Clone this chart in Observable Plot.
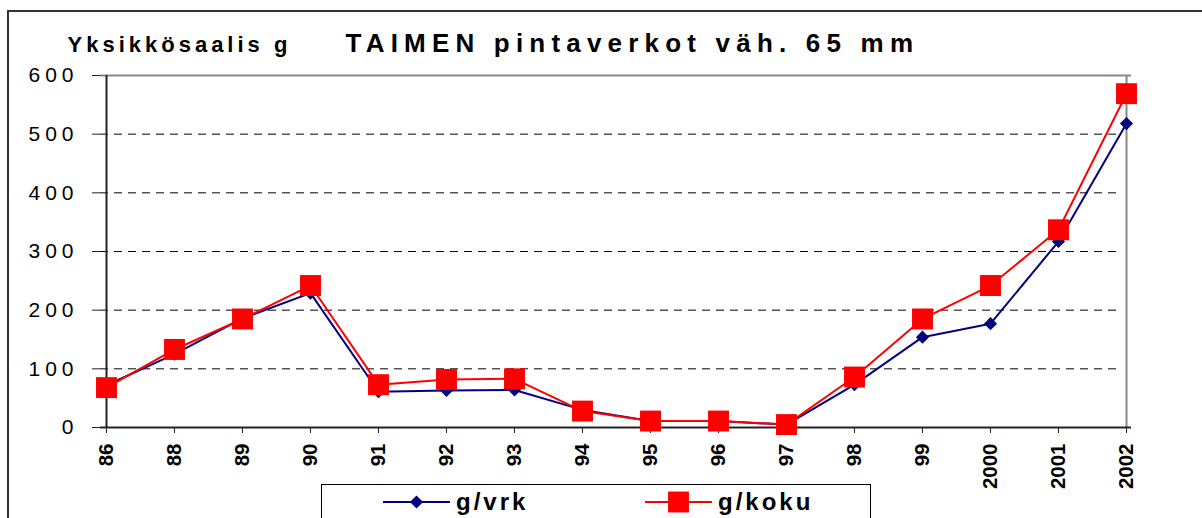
<!DOCTYPE html>
<html>
<head>
<meta charset="utf-8">
<script src="https://cdn.jsdelivr.net/npm/d3@7"></script>
<script src="https://cdn.jsdelivr.net/npm/@observablehq/plot@0.6"></script>
<style>
  html, body { margin: 0; padding: 0; background: #fff; }
  #wrap { position: relative; width: 1202px; height: 518px; overflow: hidden; background: #fff;
          font-family: "Liberation Sans", Arial, sans-serif; }
  #outer { position: absolute; left: 7px; top: 10px; width: 1400px; height: 700px; border: 2px solid #333; box-sizing: border-box; }
  #chart { position: absolute; left: 0; top: 0; }
  #legend { position: absolute; left: 321px; top: 484px; width: 550px; height: 80px;
            border: 1.5px solid #000; box-sizing: border-box; background: #fff; }
  #legend .item { position: absolute; top: 0; height: 34px; display: flex; align-items: center; }
  #legend .lab { font-weight: bold; font-size: 24px; letter-spacing: 3px; color: #000; margin-left: 6px; }
</style>
</head>
<body>
<div id="wrap">
  <div id="outer"></div>
  <div id="chart"></div>
  <div id="legend"></div>
</div>
<script>
const categories = ["86","88","89","90","91","92","93","94","95","96","97","98","99","2000","2001","2002"];
const gVrk  = [72, 125, 186, 229, 61, 63, 64, 30, 11, 11, 5, 73, 154, 177, 317, 518];
const gKoku = [68, 133, 185, 242, 73, 82, 83, 28, 11, 11, 5, 86, 185, 242, 337, 569];
const yTicks = [0, 100, 200, 300, 400, 500, 600];
const gridTicks = [100, 200, 300, 400, 500];
const seriesNames = ["g/vrk", "g/koku"];
const seriesColors = ["#000080", "#ff0000"];
const titleText = "TAIMEN pintaverkot väh. 65 mm";
const yLabelText = "Yksikkösaalis g";

const rowsVrk = categories.map((c, i) => ({year: c, value: gVrk[i]}));
const rowsKoku = categories.map((c, i) => ({year: c, value: gKoku[i]}));

const chart = Plot.plot({
  width: 1202,
  height: 518,
  marginLeft: 100,
  marginRight: 71,
  marginTop: 75,
  marginBottom: 91,
  style: {fontFamily: "'Liberation Sans', Arial, sans-serif", background: "transparent", color: "#000", overflow: "visible"},
  x: {type: "point", domain: categories, padding: 0, label: null},
  y: {domain: [0, 600], label: null},
  marks: [
    Plot.gridY(gridTicks, {stroke: "#000", strokeOpacity: 1, strokeWidth: 1, strokeDasharray: "8,6", insetRight: 9}),
    Plot.ruleY([600], {stroke: "#888", strokeWidth: 2}),
    Plot.ruleX([categories[categories.length - 1]], {stroke: "#888", strokeWidth: 2}),
    Plot.axisY(yTicks, {tickSize: 8, tickPadding: 14, fontSize: 21, label: null, stroke: "#222"}),
    Plot.axisX({tickSize: 6, tickPadding: 10, tickRotate: -90, fontSize: 20.5, fontWeight: "bold", label: null, stroke: "#222"}),
    Plot.ruleX([categories[0]], {stroke: "#222", strokeWidth: 2}),
    Plot.ruleY([0], {stroke: "#222", strokeWidth: 2}),
    Plot.line(rowsVrk, {x: "year", y: "value", stroke: seriesColors[0], strokeWidth: 2}),
    Plot.dot(rowsVrk, {x: "year", y: "value", symbol: "diamond2", r: 5.9, fill: seriesColors[0], stroke: "none"}),
    Plot.line(rowsKoku, {x: "year", y: "value", stroke: seriesColors[1], strokeWidth: 2}),
    Plot.dot(rowsKoku, {x: "year", y: "value", symbol: "square", r: 11.8, fill: seriesColors[1], stroke: "none"}),
    Plot.text([titleText], {text: d => d, frameAnchor: "top-left", dx: 245, dy: -24, textAnchor: "start", lineAnchor: "bottom",
      fontSize: 26, fontWeight: "bold", fill: "#000"}),
    Plot.text([yLabelText], {text: d => d, frameAnchor: "top-left", dx: -33, dy: -24, textAnchor: "start", lineAnchor: "bottom",
      fontSize: 22, fontWeight: "bold", fill: "#000"})
  ]
});
document.getElementById("chart").appendChild(chart);
const svg = d3.select(chart);
svg.selectAll("text").each(function () {
  const t = this.textContent;
  if (t === titleText) this.setAttribute("letter-spacing", "6.2");
  else if (t === yLabelText) this.setAttribute("letter-spacing", "4");
});
svg.selectAll("g[aria-label='y-axis tick label'] text").attr("letter-spacing", "5");

// Legend
const legend = d3.select("#legend");
const positions = [{left: 61, marker: "diamond"}, {left: 323, marker: "square"}];
seriesNames.forEach((name, i) => {
  const item = legend.append("div").attr("class", "item").style("left", positions[i].left + "px");
  const sw = item.append("svg").attr("width", 67).attr("height", 30);
  sw.append("line").attr("x1", 0).attr("x2", 67).attr("y1", 15).attr("y2", 15)
    .attr("stroke", seriesColors[i]).attr("stroke-width", 2);
  if (positions[i].marker === "diamond") {
    sw.append("path").attr("d", d3.symbol(d3.symbolDiamond2, 5.9 * 5.9 * Math.PI)()).attr("transform", "translate(33.5,15)").attr("fill", seriesColors[i]);
  } else {
    sw.append("path").attr("d", d3.symbol(d3.symbolSquare, 11.8 * 11.8 * Math.PI)()).attr("transform", "translate(33.5,15)").attr("fill", seriesColors[i]);
  }
  item.append("span").attr("class", "lab").text(name);
});
</script>
</body>
</html>
